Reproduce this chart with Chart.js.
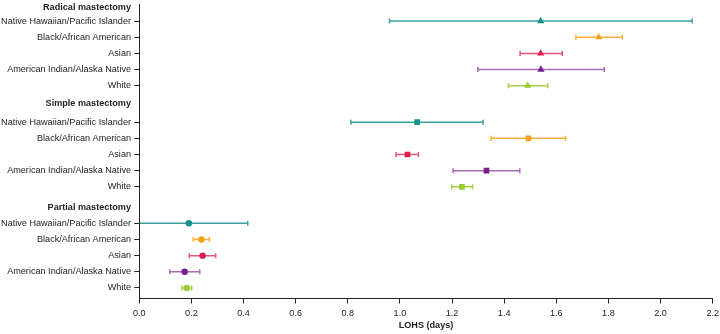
<!DOCTYPE html>
<html><head><meta charset="utf-8">
<script src="https://cdn.jsdelivr.net/npm/chart.js@4"></script>
<style>html,body{margin:0;padding:0;background:#fff}#wrap{width:720px;height:334px;position:relative}</style>
</head><body><div id="wrap"><canvas id="c"></canvas></div>
<script>
// ---- data ----
const races = ['Native Hawaiian/Pacific Islander', 'Black/African American', 'Asian', 'American Indian/Alaska Native', 'White'];
const groups = ['Radical mastectomy', 'Simple mastectomy', 'Partial mastectomy'];
const radicalMean = [1.540, 1.763, 1.540, 1.541, 1.490];
const radicalLow  = [0.960, 1.675, 1.461, 1.299, 1.416];
const radicalHigh = [2.121, 1.853, 1.623, 1.784, 1.567];
const simpleMean  = [1.066, 1.493, 1.029, 1.332, 1.238];
const simpleLow   = [0.812, 1.350, 0.985, 1.204, 1.199];
const simpleHigh  = [1.319, 1.636, 1.071, 1.460, 1.279];
const partialMean = [0.190, 0.238, 0.243, 0.174, 0.182];
const partialLow  = [-0.036, 0.207, 0.192, 0.117, 0.163];
const partialHigh = [0.416, 0.269, 0.293, 0.232, 0.201];
const xTickValues = [0, 0.2, 0.4, 0.6, 0.8, 1.0, 1.2, 1.4, 1.6, 1.8, 2.0, 2.2];
const xTickLabels = ['0.0', '0.2', '0.4', '0.6', '0.8', '1.0', '1.2', '1.4', '1.6', '1.8', '2.0', '2.2'];
const xTitle = 'LOHS (days)';

// ---- styling / layout ----
const means = [radicalMean, simpleMean, partialMean];
const lows = [radicalLow, simpleLow, partialLow];
const highs = [radicalHigh, simpleHigh, partialHigh];
const markerColors = ['#17918b', '#f7a11a', '#d61f4c', '#7a1b8e', '#99cc2e'];
const lineColors = ['rgba(23,145,139,0.85)', 'rgba(247,161,26,0.85)', 'rgba(214,31,76,0.75)', 'rgba(122,27,142,0.65)', 'rgba(153,204,46,0.9)'];
const groupStyles = ['triangle', 'rect', 'circle'];
const groupRadius = [4.2, 4, 3.2];
const GROUP_SPAN = 6.25;
const headerGap = [0.82, 1.15, 0.98];
const FONT = '"Liberation Sans", Arial, Helvetica, sans-serif';
const TXT = '#222';
function rowPos(g, i) { return g * GROUP_SPAN + i; }

const tickPos = [], tickText = [], tickIsHeader = [];
groups.forEach((g, gi) => {
  tickPos.push(gi * GROUP_SPAN - headerGap[gi]); tickText.push(g); tickIsHeader.push(true);
  races.forEach((r, ri) => { tickPos.push(rowPos(gi, ri)); tickText.push(r); tickIsHeader.push(false); });
});

const datasets = races.map((r, ri) => ({
  label: r,
  data: groups.map((g, gi) => ({ x: means[gi][ri], y: rowPos(gi, ri) })),
  pointStyle: groupStyles,
  pointRadius: groupRadius,
  pointBackgroundColor: markerColors[ri],
  pointBorderColor: markerColors[ri],
  pointBorderWidth: 0,
  showLine: false
}));

const errorBars = {
  id: 'errorBars',
  beforeDatasetsDraw(chart) {
    const { ctx, chartArea: a, scales: { x, y } } = chart;
    ctx.save();
    ctx.beginPath();
    ctx.rect(a.left + 0.5, a.top - 6, a.right - a.left + 6, a.bottom - a.top + 12);
    ctx.clip();
    groups.forEach((g, gi) => {
      races.forEach((r, ri) => {
        const yp = y.getPixelForValue(rowPos(gi, ri));
        const x1 = x.getPixelForValue(lows[gi][ri]);
        const x2 = x.getPixelForValue(highs[gi][ri]);
        ctx.strokeStyle = lineColors[ri];
        ctx.lineWidth = 1.5;
        ctx.beginPath();
        ctx.moveTo(x1, yp); ctx.lineTo(x2, yp);
        ctx.moveTo(x1, yp - 2.5); ctx.lineTo(x1, yp + 2.5);
        ctx.moveTo(x2, yp - 2.5); ctx.lineTo(x2, yp + 2.5);
        ctx.stroke();
      });
    });
    ctx.restore();
  }
};

new Chart(document.getElementById('c'), {
  type: 'scatter',
  data: { datasets },
  plugins: [errorBars],
  options: {
    responsive: true, maintainAspectRatio: false, animation: false,
    layout: { padding: { top: 2, right: 7.3, left: 0, bottom: 0 } },
    plugins: { legend: { display: false }, tooltip: { enabled: false } },
    scales: {
      x: {
        type: 'linear', position: 'bottom', min: 0, max: 2.2,
        afterBuildTicks: s => { s.ticks = xTickValues.map(v => ({ value: v })); },
        afterFit: s => { s.height = 35.5; s.paddingLeft = 0; s.paddingRight = 0; },
        ticks: { autoSkip: false, maxRotation: 0, padding: 4.5, color: TXT,
          font: { family: FONT, size: 9.1 }, callback: (v, i) => xTickLabels[i] },
        grid: { drawOnChartArea: false, drawTicks: true, tickLength: 5, color: TXT, lineWidth: 1 },
        border: { display: true, color: TXT, width: 1 },
        title: { display: true, text: xTitle, color: TXT, padding: { top: 0, bottom: 3 },
          font: { family: FONT, size: 9.1, weight: 'bold' } }
      },
      y: {
        type: 'linear', reverse: true, min: -1.04, max: 17.15,
        afterBuildTicks: s => { s.ticks = tickPos.map(v => ({ value: v })); },
        afterFit: s => { s.width = 139.3; s.paddingTop = 0; s.paddingBottom = 0; },
        ticks: { autoSkip: false, padding: 3.3, color: TXT, callback: (v, i) => tickText[i],
          font: ctx => ({ family: FONT, size: 9.1, weight: tickIsHeader[ctx.index] ? 'bold' : 'normal' }) },
        grid: { drawOnChartArea: false, drawTicks: true, tickLength: 5, lineWidth: 1,
          tickColor: ctx => tickIsHeader[ctx.index] ? 'rgba(0,0,0,0)' : TXT },
        border: { display: true, color: TXT, width: 1 }
      }
    }
  }
});
</script>
</body></html>
